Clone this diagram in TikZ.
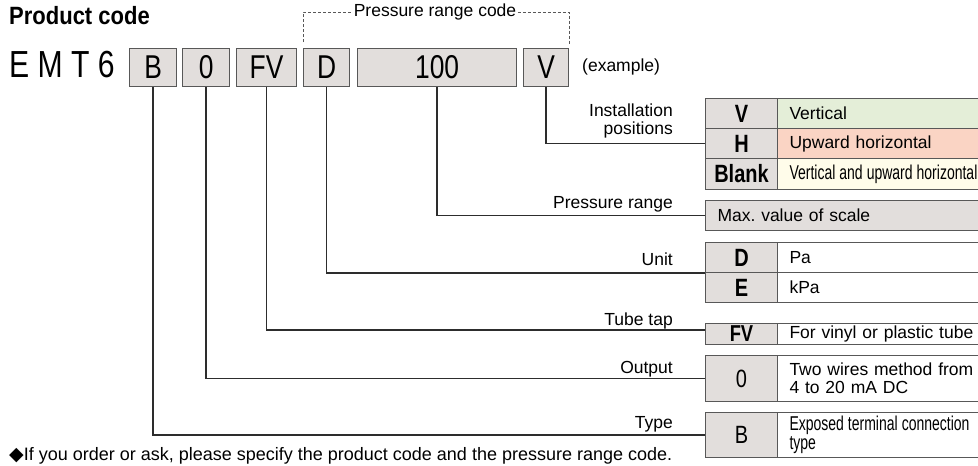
\documentclass[tikz,border=0pt]{standalone}
\usepackage{fontspec}
\setmainfont{Liberation Sans}
\newfontfamily\condfont{Liberation Sans}[FakeStretch=0.8]
\newfontfamily\titlefont{Liberation Sans}[FakeStretch=0.88]
\newfontfamily\narrowfont{Liberation Sans}[FakeStretch=0.7]
\newfontfamily\symfont{DejaVu Sans}
\usepackage{tikz}
\definecolor{boxgray}{RGB}{226,222,220}
\definecolor{framegray}{RGB}{88,88,88}
\definecolor{linedark}{RGB}{45,45,45}
\definecolor{rowgreen}{RGB}{228,238,216}
\definecolor{rowred}{RGB}{250,212,196}
\definecolor{rowyellow}{RGB}{255,252,234}
\newcommand{\labsize}{\fontsize{17.5}{18}\selectfont}
\newcommand{\narrowsize}{\narrowfont\fontsize{20}{19}\selectfont}
\newcommand{\tight}{\spaceskip=0.2em plus 0.05em\relax}
\frenchspacing

\begin{document}
\begin{tikzpicture}[
  x=1pt, y=-1pt,
  every node/.style={inner sep=0pt},
  codebox/.style={draw=framegray, line width=1.2pt, fill=boxgray, minimum height=38pt,
    anchor=north west, font=\condfont\fontsize{33}{36}\selectfont},
  codecell/.style={draw=framegray, line width=1pt, fill=boxgray, minimum width=72pt,
    anchor=north west, font=\condfont\bfseries\fontsize{25}{25}\selectfont},
  desccell/.style={draw=framegray, line width=1pt, anchor=north west, minimum width=260pt,
    text width=236pt, inner xsep=12pt, align=left, font=\labsize},
  lab/.style={font=\labsize, anchor=base east},
  conn/.style={draw=linedark, line width=1.3pt},
  brack/.style={draw=framegray, line width=0.8pt, dash pattern=on 3pt off 2pt},
]
  \useasboundingbox (0,0) rectangle (978,466);
  \clip (0,0) rectangle (978,466);

  % Product code
  \node[font=\titlefont\bfseries\fontsize{25}{28}\selectfont, anchor=base west] (title) at (9,24) {Product code};
  \node[font=\condfont\fontsize{37.7}{40}\selectfont, anchor=base west] (model) at (9,77) {E M T 6};
  \node[codebox, minimum width=47pt] (bB) at (129,48) {B};
  \node[codebox, minimum width=47pt] (b0) at (182,48) {0};
  \node[codebox, minimum width=60pt] (bFV) at (236,48) {FV};
  \node[codebox, minimum width=46pt] (bD) at (303,48) {D};
  \node[codebox, minimum width=159pt] (b100) at (357,48) {100};
  \node[codebox, minimum width=45pt] (bV) at (523,48) {V};
  \node[font=\labsize, anchor=west] (ex) at (582,67) {(example)};

  % Pressure range code bracket
  \node[font=\labsize, inner xsep=1.5pt] (prc) at (435,12) {Pressure range code};
  \draw[brack] ([yshift=6pt]bD.north west) |- (prc.west);
  \draw[brack] (prc.east) -| ([yshift=3pt]bV.north east);

  % Installation positions
  \node[codecell, minimum height=30pt] (cV) at (705,98) {V};
  \node[desccell, fill=rowgreen, minimum height=30pt] (dV) at (777,98) {Vertical};
  \node[codecell, minimum height=30pt] (cH) at (705,128) {H};
  \node[desccell, fill=rowred, minimum height=30pt] (dH) at (777,128) {Upward horizontal};
  \node[codecell, minimum height=31pt] (cBlank) at (705,158) {Blank};
  \node[desccell, fill=rowyellow, minimum height=31pt, font=\narrowsize]
    (dBlank) at (777,158) {\tight Vertical and upward horizontal};

  % Pressure range
  \node[desccell, fill=boxgray, minimum width=340pt, text width=316pt, minimum height=30pt]
    (max) at (705,200) {Max. value of scale};

  % Unit
  \node[codecell, minimum height=30pt] (cD) at (705,242) {D};
  \node[desccell, minimum height=30pt] (dD) at (777,242) {Pa};
  \node[codecell, minimum height=30pt] (cE) at (705,272) {E};
  \node[desccell, minimum height=30pt] (dE) at (777,272) {kPa};

  % Tube tap
  \node[codecell, minimum height=21pt, font=\condfont\bfseries\fontsize{23}{23}\selectfont] (cFV) at (705,323) {FV};
  \node[desccell, minimum height=21pt] (dFV) at (777,323) {For vinyl or plastic tube};

  % Output
  \node[codecell, minimum height=46pt, font=\condfont\fontsize{25}{25}\selectfont] (c0) at (705,355) {0};
  \node[desccell, minimum height=46pt] (d0) at (777,355) {Two wires method from\\4 to 20 mA DC};

  % Type
  \node[codecell, minimum height=45pt, font=\condfont\fontsize{25}{25}\selectfont] (cB) at (705,412) {B};
  \node[desccell, minimum height=45pt, font=\narrowsize]
    (dB) at (777,412) {\tight Exposed terminal connection\\type};

  % item labels
  \node[lab, anchor=south east, align=right] (lInst) at (673,138) {Installation\\positions};
  \node[lab] (lPress) at (673,208) {Pressure range};
  \node[lab] (lUnit) at (673,265) {Unit};
  \node[lab] (lTube) at (673,325) {Tube tap};
  \node[lab] (lOut) at (673,373) {Output};
  \node[lab] (lType) at (673,428) {Type};

  % leader lines
  \draw[conn] (bV.south) |- (cH.west);
  \draw[conn] (b100.south) |- (max.west);
  \draw[conn] (bD.south) |- (cD.south west);
  \draw[conn] (bFV.south) |- ([yshift=4pt]cFV.west);
  \draw[conn] (b0.south) |- (c0.west);
  \draw[conn] (bB.south) |- (cB.west);

  % note
  \node[font=\fontsize{18}{18}\selectfont, anchor=base west] (note) at (9,460)
    {{\symfont\fontsize{19}{19}\selectfont ◆}If you order or ask, please specify the product code and the pressure range code.};
\end{tikzpicture}
\end{document}
